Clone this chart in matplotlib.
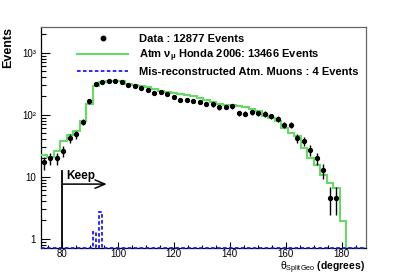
import numpy as np
import matplotlib
matplotlib.use('Agg')
import matplotlib.pyplot as plt
from matplotlib.lines import Line2D
from matplotlib.ticker import FixedLocator, FixedFormatter, MultipleLocator, LogLocator, NullFormatter

plt.rcParams['font.family'] = ['Liberation Sans', 'DejaVu Sans']
plt.rcParams['mathtext.fontset'] = 'custom'
plt.rcParams['mathtext.rm'] = 'Liberation Sans'
plt.rcParams['mathtext.it'] = 'Liberation Sans:italic'
plt.rcParams['mathtext.bf'] = 'Liberation Sans:bold'
plt.rcParams['mathtext.default'] = 'regular'

# ---------------- data ----------------
x_range = (72.4, 188.6)
n_bins = 50
muon_n_bins = 100

data_counts = [17, 20, 20, 26, 42, 48, 76, 164, 310, 340,
               355, 348, 342, 302, 287, 272, 251, 224, 235, 212,
               195, 176, 176, 166, 162, 150, 147, 132, 133, 136,
               106, 104, 110, 106, 103, 94, 85, 69, 69, 42,
               38, 27, 20, 12.6, 4.6, 4.6]

mc_counts = [22.6, 20.8, 26, 38, 47, 55, 80, 150, 290, 335,
             345, 350, 348, 316, 302, 295, 280, 258, 245, 235,
             222, 215, 208, 198, 185, 170, 162, 148, 145, 143,
             136, 134, 125, 113, 97, 88, 80, 61, 51, 45,
             29, 20, 15.6, 10.8, 7.9, 6.6, 1.9, 0, 0, 0]

muon_counts = [0] * 16 + [1.26, 0, 2.65] + [0] * 81

keep_cut = 80
keep_arrow_end = 96
keep_line_top = 12.2
keep_arrow_y = 7.6

legend_labels = ['Data : 12877 Events',
                 r'Atm $\nu_{\mu}$ Honda 2006: 13466 Events',
                 'Mis-reconstructed Atm. Muons : 4 Events']
ytick_vals = [1, 10, 100, 1000]
ytick_labels = ['1', '10', '10\u00b2', '10\u00b3']
xtick_vals = [80, 100, 120, 140, 160, 180]

y_lim = (0.716, 2630)

green = '#66d966'
blue = '#1a1aff'

# ---------------- figure ----------------
W, H = 407, 276
fig = plt.figure(figsize=(W / 100, H / 100), dpi=100)
ax = fig.add_axes([40.7 / W, 1 - 247.7 / H, (365.7 - 40.7) / W, (247.7 - 26.7) / H])
ax.set_yscale('log')
ax.set_xlim(*x_range)
ax.set_ylim(*y_lim)

edges = np.linspace(x_range[0], x_range[1], n_bins + 1)
centers = 0.5 * (edges[:-1] + edges[1:])
width = edges[1] - edges[0]
muon_edges = np.linspace(x_range[0], x_range[1], muon_n_bins + 1)

ymin = y_lim[0]
mc = np.array(mc_counts, dtype=float)
mc_draw = np.where(mc > 0, mc, ymin)
ax.stairs(mc_draw, edges, baseline=None, color=green, lw=1.5, zorder=3)

mu = np.array(muon_counts, dtype=float)
mu_draw = np.where(mu > 0, mu, ymin)
ax.stairs(mu_draw, muon_edges, baseline=None, color=blue, lw=1.3,
          linestyle=(0, (2, 1.3)), zorder=4, clip_on=False)

d = np.array(data_counts, dtype=float)
xc = centers[:len(d)]
ax.errorbar(xc, d, yerr=np.sqrt(d), xerr=0.3 * width, fmt='o', color='black',
            ms=2.8, elinewidth=1.0, capsize=0, zorder=5)

# Keep cut
ax.plot([keep_cut, keep_cut], [ymin, keep_line_top], color='black', lw=1.3, zorder=6)
ax.annotate('', xy=(keep_arrow_end, keep_arrow_y), xytext=(keep_cut, keep_arrow_y),
            arrowprops=dict(arrowstyle='->,head_length=0.7,head_width=0.3',
                            lw=1.1, color='black', shrinkA=0, shrinkB=0,
                            mutation_scale=10), zorder=6)
ax.text(keep_cut + 1.5, 9.2, 'Keep', fontsize=8.5, fontweight='bold', ha='left', va='baseline')

# ticks
ax.yaxis.set_major_locator(FixedLocator(ytick_vals))
ax.yaxis.set_major_formatter(FixedFormatter(ytick_labels))
ax.yaxis.set_minor_locator(LogLocator(base=10, subs=np.arange(2, 10)))
ax.yaxis.set_minor_formatter(NullFormatter())
ax.xaxis.set_major_locator(FixedLocator(xtick_vals))
ax.xaxis.set_minor_locator(MultipleLocator(5))
ax.tick_params(axis='y', which='major', direction='in', length=6.5, width=0.8, labelsize=7, pad=3.5)
ax.tick_params(axis='y', which='minor', direction='in', length=3.3, width=0.8)
ax.tick_params(axis='x', which='major', direction='in', length=4.5, width=0.8, labelsize=7, pad=1.0)
ax.tick_params(axis='x', which='minor', direction='in', length=2.5, width=0.8)

for s in ['top', 'right']:
    ax.spines[s].set_color('#666666')
    ax.spines[s].set_linewidth(0.9)
for s in ['left', 'bottom']:
    ax.spines[s].set_color('black')
    ax.spines[s].set_linewidth(0.9)

# legend
handles = [Line2D([], [], marker='o', color='black', ls='none', ms=3.2),
           Line2D([], [], color=green, lw=1.5),
           Line2D([], [], color=blue, lw=1.3, ls=(0, (2, 1.3)))]
leg = fig.legend(handles, legend_labels, loc='upper left',
                 bbox_to_anchor=(77 / W, 1 - 34 / H), bbox_transform=fig.transFigure,
                 frameon=False, prop={'weight': 'bold', 'size': 8},
                 handlelength=4.6, handletextpad=1.0, labelspacing=0.3,
                 borderpad=0, borderaxespad=0)

# axis titles
fig.text(8.3 / W, 1 - 26.7 / H, 'Events', rotation=90, ha='center', va='top',
         fontsize=9, fontweight='bold')
fig.text(365.5 / W, 1 - 260 / H, r'$\theta_{SplitGeo}$ $\mathbf{(degrees)}$',
         ha='right', va='top', fontsize=7.5)

fig.savefig('out.png', dpi=100)
